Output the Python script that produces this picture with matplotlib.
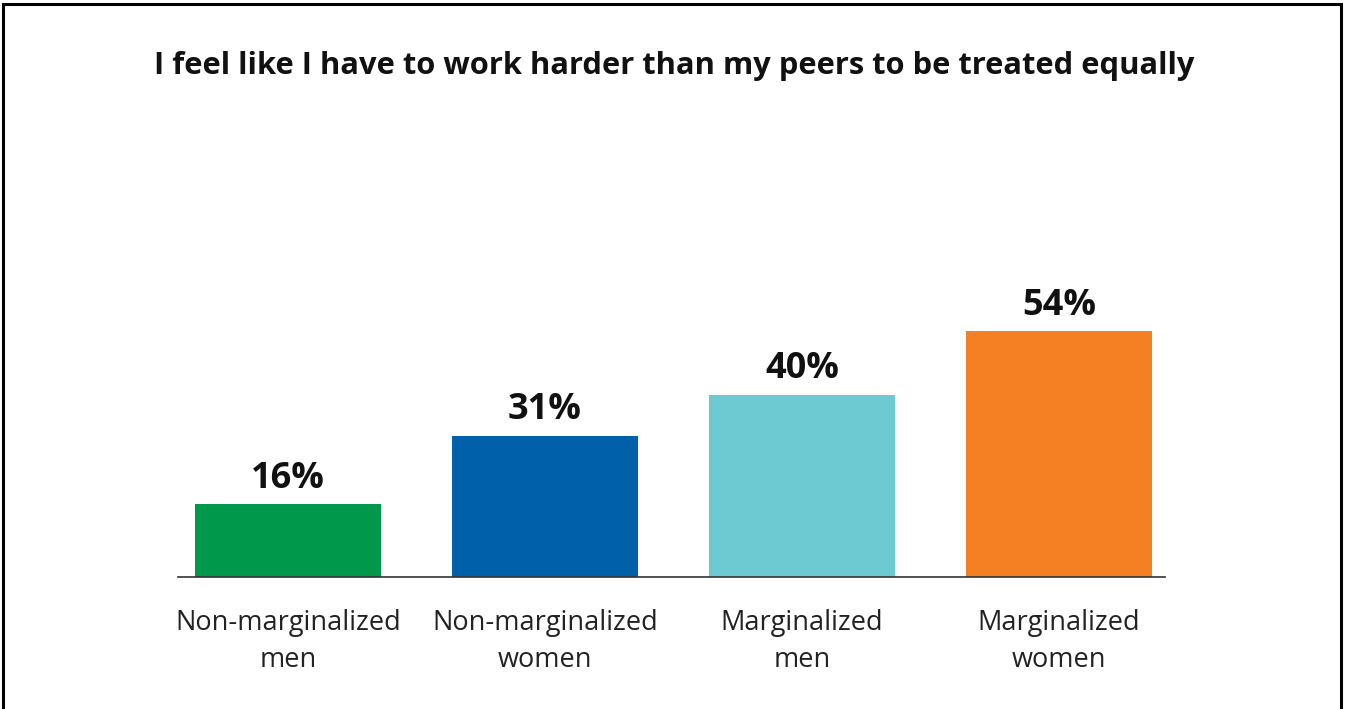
import matplotlib.pyplot as plt
from matplotlib.patches import Rectangle

plt.rcParams['font.family'] = ['Open Sans', 'DejaVu Sans']

# Survey results
grupos = ["Non-marginalized\nmen", "Non-marginalized\nwomen",
          "Marginalized\nmen", "Marginalized\nwomen"]
porcentajes = [16, 31, 40, 54]
colores = ["#00994C", "#0061AA", "#6DCAD3", "#F58024"]
titulo = "I feel like I have to work harder than my peers to be treated equally"

fig = plt.figure(figsize=(13.45, 7.09), dpi=100)
ax = fig.add_axes([0.1323, 0.1862, 0.7338, 0.385])

posiciones = range(len(grupos))
ax.bar(posiciones, porcentajes, width=0.724, color=colores, zorder=2)

# Value labels above each bar
for x, valor in zip(posiciones, porcentajes):
    ax.annotate(f"{valor}%", (x, valor), xytext=(0, 5.5), textcoords="offset points",
                ha="center", va="bottom", fontsize=26, fontweight="bold",
                color="#111111")

ax.set_xlim(-0.428, 3.412)
ax.set_ylim(0, 60)
ax.set_xticks(list(posiciones))
ax.set_xticklabels(grupos, fontsize=19.5, color="#222222", linespacing=1.45)
ax.tick_params(axis="x", length=0, pad=23)
ax.set_yticks([])
for lado in ["top", "left", "right"]:
    ax.spines[lado].set_visible(False)
ax.spines["bottom"].set_color("#333333")
ax.spines["bottom"].set_linewidth(1.2)
ax.spines["bottom"].set_zorder(3)

fig.text(0.5015, 0.907, titulo, ha="center", va="center",
         fontsize=22.2, fontweight="bold", color="#111111")

# Frame around the chart
borde = Rectangle((3 / 1345, -0.02), 1338 / 1345, 1 - 3.5 / 709 + 0.02,
                  transform=fig.transFigure, fill=False, edgecolor="black",
                  linewidth=2.2)
fig.patches.append(borde)

fig.savefig("out.png", dpi=100)
